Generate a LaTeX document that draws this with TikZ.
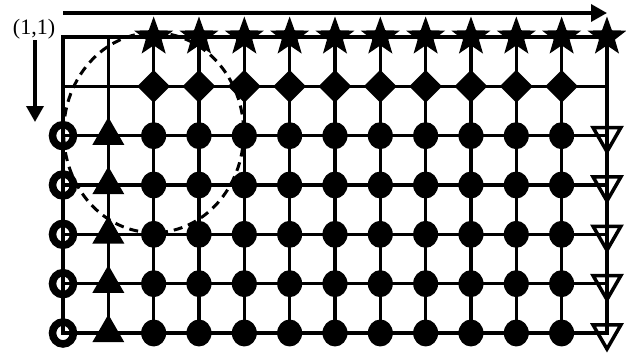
\documentclass[tikz,border=0pt]{standalone}
\usepackage{fontspec}
\setmainfont{Liberation Serif}
\usepackage{tikz}
\usetikzlibrary{arrows.meta, shapes.geometric}

\begin{document}
\begin{tikzpicture}[x=1pt, y=-1pt,
      >={Triangle[length=16pt, width=17pt]},
      gridln/.style={line width=3.6pt, line cap=rect},
      dirarrow/.style={->, line width=3.5pt},
      starnode/.style={star, star points=5, star point ratio=2.45, fill=black, inner sep=0pt, minimum size=41pt},
      diamondnode/.style={diamond, fill=black, inner sep=0pt, minimum size=33pt},
      dotnode/.style={ellipse, fill=black, inner sep=0pt, minimum width=25pt, minimum height=27pt},
      ringnode/.style={ellipse, draw, line width=7.5pt, inner sep=0pt, minimum width=21pt, minimum height=22pt},
      upnode/.style={regular polygon, regular polygon sides=3, fill=black, inner sep=0pt, minimum size=37pt},
      downnode/.style={regular polygon, regular polygon sides=3, shape border rotate=180, draw, line width=3.5pt, inner sep=0pt, minimum size=32pt}]
    \useasboundingbox (0,0) rectangle (626,354);
    % grid points
    \foreach \c in {0,...,12} {
      \foreach \r in {0,...,6} {
        \coordinate (g-\c-\r) at ({63+45.33*\c},{37+49.33*\r});
      }
    }
    \foreach \c in {0,...,12} {
      \draw[gridln] (g-\c-0) -- (g-\c-6);
    }
    \foreach \r in {0,...,6} {
      \draw[gridln] (g-0-\r) -- (g-12-\r);
    }
    % direction arrows
    \coordinate (toptail) at (63,13);
    \coordinate (tophead) at (607,13);
    \draw[dirarrow] (toptail) -- (tophead);
    \node[font=\fontsize{22}{26}\selectfont, inner sep=0pt] (origin) at (34,29) {(1,1)};
    \coordinate (lefttail) at (35,40);
    \coordinate (lefthead) at (35,122);
    \draw[dirarrow] (lefttail) -- (lefthead);
    % symbols
    \foreach \c in {2,...,12} {
      \node[starnode] (s-\c) at (g-\c-0) {};
    }
    \foreach \c in {2,...,11} {
      \node[diamondnode] (d-\c) at (g-\c-1) {};
    }
    \foreach \r in {2,...,6} {
      \node[ringnode] (o-\r) at (g-0-\r) {};
      \node[upnode] (t-\r) at (g-1-\r) {};
      \node[downnode] (v-\r) at (g-12-\r) {};
      \foreach \c in {2,...,11} {
        \node[dotnode] (c-\c-\r) at (g-\c-\r) {};
      }
    }
    % neighbourhood
    \draw[line width=3pt, dash pattern=on 9pt off 6pt] (g-2-2) ++(0,-3) ellipse [x radius=90, y radius=100];
  \end{tikzpicture}
\end{document}
